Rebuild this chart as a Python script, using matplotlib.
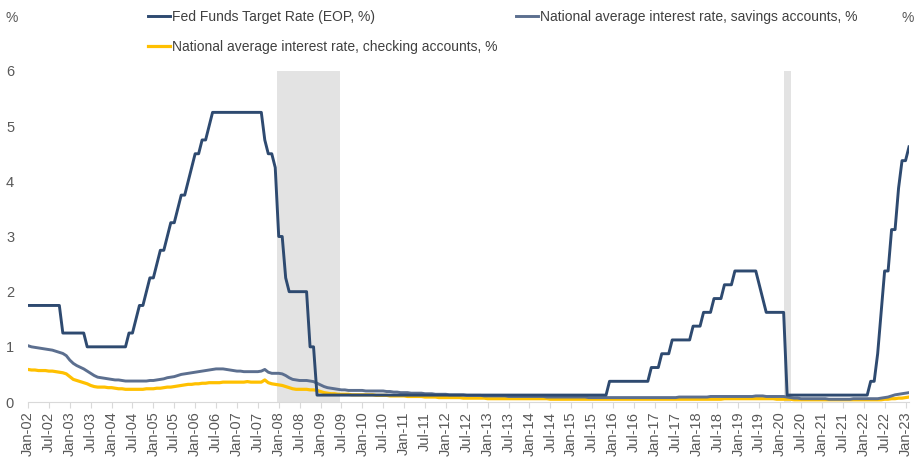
"""Fed funds target rate vs national average deposit rates, 2002-2023."""

import matplotlib

matplotlib.use("Agg")
import matplotlib.pyplot as plt
import numpy as np

plt.rcParams["font.family"] = ["Liberation Sans", "DejaVu Sans"]

# monthly series, Jan-02 .. Feb-23 (one row per year)
fed_funds = [
    1.75, 1.75, 1.75, 1.75, 1.75, 1.75, 1.75, 1.75, 1.75, 1.75, 1.25, 1.25,
    1.25, 1.25, 1.25, 1.25, 1.25, 1.00, 1.00, 1.00, 1.00, 1.00, 1.00, 1.00,
    1.00, 1.00, 1.00, 1.00, 1.00, 1.25, 1.25, 1.50, 1.75, 1.75, 2.00, 2.25,
    2.25, 2.50, 2.75, 2.75, 3.00, 3.25, 3.25, 3.50, 3.75, 3.75, 4.00, 4.25,
    4.50, 4.50, 4.75, 4.75, 5.00, 5.25, 5.25, 5.25, 5.25, 5.25, 5.25, 5.25,
    5.25, 5.25, 5.25, 5.25, 5.25, 5.25, 5.25, 5.25, 4.75, 4.50, 4.50, 4.25,
    3.00, 3.00, 2.25, 2.00, 2.00, 2.00, 2.00, 2.00, 2.00, 1.00, 1.00, 0.125,
    0.125, 0.125, 0.125, 0.125, 0.125, 0.125, 0.125, 0.125, 0.125, 0.125, 0.125, 0.125,
    0.125, 0.125, 0.125, 0.125, 0.125, 0.125, 0.125, 0.125, 0.125, 0.125, 0.125, 0.125,
    0.125, 0.125, 0.125, 0.125, 0.125, 0.125, 0.125, 0.125, 0.125, 0.125, 0.125, 0.125,
    0.125, 0.125, 0.125, 0.125, 0.125, 0.125, 0.125, 0.125, 0.125, 0.125, 0.125, 0.125,
    0.125, 0.125, 0.125, 0.125, 0.125, 0.125, 0.125, 0.125, 0.125, 0.125, 0.125, 0.125,
    0.125, 0.125, 0.125, 0.125, 0.125, 0.125, 0.125, 0.125, 0.125, 0.125, 0.125, 0.125,
    0.125, 0.125, 0.125, 0.125, 0.125, 0.125, 0.125, 0.125, 0.125, 0.125, 0.125, 0.375,
    0.375, 0.375, 0.375, 0.375, 0.375, 0.375, 0.375, 0.375, 0.375, 0.375, 0.375, 0.625,
    0.625, 0.625, 0.875, 0.875, 0.875, 1.125, 1.125, 1.125, 1.125, 1.125, 1.125, 1.375,
    1.375, 1.375, 1.625, 1.625, 1.625, 1.875, 1.875, 1.875, 2.125, 2.125, 2.125, 2.375,
    2.375, 2.375, 2.375, 2.375, 2.375, 2.375, 2.125, 1.875, 1.625, 1.625, 1.625, 1.625,
    1.625, 1.625, 0.125, 0.125, 0.125, 0.125, 0.125, 0.125, 0.125, 0.125, 0.125, 0.125,
    0.125, 0.125, 0.125, 0.125, 0.125, 0.125, 0.125, 0.125, 0.125, 0.125, 0.125, 0.125,
    0.125, 0.125, 0.375, 0.375, 0.875, 1.625, 2.375, 2.375, 3.125, 3.125, 3.875, 4.375,
    4.375, 4.625,
]

savings_rate = [
    1.02, 1.00, 0.99, 0.98, 0.97, 0.96, 0.95, 0.94, 0.92, 0.90, 0.88, 0.84,
    0.76, 0.70, 0.66, 0.63, 0.60, 0.56, 0.52, 0.48, 0.45, 0.44, 0.43, 0.42,
    0.41, 0.40, 0.40, 0.39, 0.38, 0.38, 0.38, 0.38, 0.38, 0.38, 0.38, 0.39,
    0.39, 0.40, 0.41, 0.42, 0.44, 0.45, 0.46, 0.48, 0.50, 0.51, 0.52, 0.53,
    0.54, 0.55, 0.56, 0.57, 0.58, 0.59, 0.60, 0.60, 0.60, 0.59, 0.58, 0.57,
    0.56, 0.56, 0.55, 0.55, 0.55, 0.55, 0.55, 0.56, 0.59, 0.54, 0.52, 0.52,
    0.52, 0.51, 0.48, 0.44, 0.41, 0.40, 0.39, 0.39, 0.39, 0.38, 0.37, 0.34,
    0.31, 0.28, 0.26, 0.25, 0.24, 0.23, 0.22, 0.22, 0.21, 0.21, 0.21, 0.21,
    0.21, 0.20, 0.20, 0.20, 0.20, 0.20, 0.20, 0.19, 0.19, 0.18, 0.18, 0.17,
    0.17, 0.17, 0.16, 0.16, 0.16, 0.16, 0.15, 0.15, 0.15, 0.14, 0.14, 0.14,
    0.14, 0.13, 0.13, 0.13, 0.13, 0.13, 0.12, 0.12, 0.12, 0.12, 0.12, 0.11,
    0.11, 0.11, 0.11, 0.11, 0.11, 0.11, 0.10, 0.10, 0.10, 0.10, 0.10, 0.10,
    0.10, 0.10, 0.10, 0.10, 0.10, 0.09, 0.09, 0.09, 0.09, 0.09, 0.09, 0.09,
    0.09, 0.09, 0.09, 0.09, 0.09, 0.08, 0.08, 0.08, 0.08, 0.08, 0.08, 0.08,
    0.08, 0.08, 0.08, 0.08, 0.08, 0.08, 0.08, 0.08, 0.08, 0.08, 0.08, 0.08,
    0.08, 0.08, 0.08, 0.08, 0.08, 0.08, 0.08, 0.09, 0.09, 0.09, 0.09, 0.09,
    0.09, 0.09, 0.09, 0.09, 0.10, 0.10, 0.10, 0.10, 0.10, 0.10, 0.10, 0.10,
    0.10, 0.10, 0.10, 0.10, 0.10, 0.11, 0.11, 0.11, 0.10, 0.10, 0.10, 0.10,
    0.10, 0.10, 0.09, 0.08, 0.07, 0.07, 0.06, 0.06, 0.06, 0.06, 0.06, 0.06,
    0.06, 0.06, 0.05, 0.05, 0.05, 0.05, 0.05, 0.05, 0.05, 0.06, 0.06, 0.06,
    0.06, 0.06, 0.06, 0.06, 0.06, 0.07, 0.08, 0.09, 0.11, 0.13, 0.14, 0.15,
    0.16, 0.17,
]

checking_rate = [
    0.59, 0.58, 0.58, 0.57, 0.57, 0.57, 0.56, 0.56, 0.55, 0.54, 0.53, 0.51,
    0.46, 0.41, 0.39, 0.37, 0.35, 0.33, 0.30, 0.28, 0.27, 0.27, 0.27, 0.26,
    0.26, 0.25, 0.24, 0.24, 0.23, 0.23, 0.23, 0.23, 0.23, 0.23, 0.24, 0.24,
    0.24, 0.25, 0.25, 0.26, 0.27, 0.27, 0.28, 0.29, 0.30, 0.31, 0.32, 0.32,
    0.33, 0.33, 0.34, 0.34, 0.35, 0.35, 0.35, 0.35, 0.36, 0.36, 0.36, 0.36,
    0.36, 0.36, 0.36, 0.37, 0.36, 0.36, 0.36, 0.36, 0.40, 0.35, 0.33, 0.32,
    0.31, 0.30, 0.28, 0.26, 0.24, 0.23, 0.23, 0.23, 0.23, 0.22, 0.22, 0.21,
    0.19, 0.17, 0.16, 0.15, 0.15, 0.14, 0.14, 0.14, 0.14, 0.13, 0.13, 0.13,
    0.13, 0.13, 0.13, 0.13, 0.12, 0.12, 0.12, 0.12, 0.11, 0.11, 0.11, 0.11,
    0.11, 0.10, 0.10, 0.10, 0.10, 0.10, 0.09, 0.09, 0.09, 0.09, 0.08, 0.08,
    0.08, 0.08, 0.08, 0.08, 0.08, 0.07, 0.07, 0.07, 0.07, 0.07, 0.07, 0.07,
    0.06, 0.06, 0.06, 0.06, 0.06, 0.06, 0.06, 0.06, 0.06, 0.06, 0.06, 0.06,
    0.06, 0.06, 0.06, 0.06, 0.06, 0.06, 0.05, 0.05, 0.05, 0.05, 0.05, 0.05,
    0.05, 0.05, 0.05, 0.05, 0.05, 0.05, 0.05, 0.05, 0.05, 0.05, 0.05, 0.05,
    0.05, 0.05, 0.05, 0.05, 0.05, 0.05, 0.05, 0.05, 0.05, 0.05, 0.05, 0.05,
    0.05, 0.05, 0.05, 0.05, 0.05, 0.05, 0.05, 0.05, 0.05, 0.05, 0.05, 0.05,
    0.05, 0.05, 0.05, 0.05, 0.05, 0.05, 0.05, 0.05, 0.06, 0.06, 0.06, 0.06,
    0.06, 0.06, 0.06, 0.06, 0.06, 0.06, 0.06, 0.06, 0.06, 0.06, 0.06, 0.05,
    0.05, 0.05, 0.05, 0.05, 0.04, 0.04, 0.04, 0.04, 0.04, 0.04, 0.04, 0.04,
    0.04, 0.04, 0.04, 0.04, 0.04, 0.04, 0.04, 0.04, 0.04, 0.04, 0.04, 0.04,
    0.04, 0.04, 0.04, 0.04, 0.04, 0.04, 0.05, 0.05, 0.06, 0.06, 0.07, 0.07,
    0.08, 0.09,
]

# recession bands as (start, end) in month index from Jan-02
recessions = [(71.5, 89.5), (217.0, 219.0)]

months = np.arange(len(fed_funds))
tick_pos = np.arange(0, len(fed_funds), 6)
tick_labels = [
    ("Jan-" if i % 12 == 0 else "Jul-") + f"{(2 + i // 12) % 100:02d}" for i in tick_pos
]

FED_COLOR = "#2E4A70"
SAV_COLOR = "#5C6F8F"
CHK_COLOR = "#FFC000"
TEXT_COLOR = "#595959"
AXIS_COLOR = "#D9D9D9"

W, H = 916, 467
fig = plt.figure(figsize=(W / 100, H / 100), dpi=100)
ax = fig.add_axes([28 / W, (H - 402) / H, 881 / W, 331 / H])

for start, end in recessions:
    ax.axvspan(start, end, color="#E3E3E3", lw=0, zorder=0)

(chk_line,) = ax.plot(months, checking_rate, color=CHK_COLOR, lw=2.3, zorder=2,
                      label="National average interest rate, checking accounts, %")
(sav_line,) = ax.plot(months, savings_rate, color=SAV_COLOR, lw=2.1, zorder=3,
                      label="National average interest rate, savings accounts, %")
(fed_line,) = ax.plot(months, fed_funds, color=FED_COLOR, lw=2.1, zorder=4,
                      label="Fed Funds Target Rate (EOP, %)")

ax.set_xlim(0, len(fed_funds) - 1)
ax.set_ylim(0, 6)
ax.set_yticks(range(7))
ax.set_xticks(tick_pos)
ax.set_xticklabels(tick_labels, rotation=90)

for side in ("top", "right", "left"):
    ax.spines[side].set_visible(False)
ax.spines["bottom"].set_color(AXIS_COLOR)
ax.tick_params(axis="y", length=0, pad=10, labelsize=10.5, labelcolor=TEXT_COLOR)
ax.tick_params(axis="x", length=4, color=AXIS_COLOR, pad=3, labelsize=10.5,
               labelcolor=TEXT_COLOR)
ax.patch.set_alpha(0)

fig.legend(
    handles=[fed_line, chk_line, sav_line],
    loc="upper left",
    bbox_to_anchor=(148 / W, 1 - 10 / H),
    ncol=2,
    frameon=False,
    fontsize=10,
    handlelength=1.6,
    handletextpad=0.15,
    columnspacing=1.3,
    labelspacing=1.15,
    borderpad=0,
    borderaxespad=0,
    labelcolor="#404040",
)

fig.text(12 / W, 1 - 18 / H, "%", fontsize=10, color=TEXT_COLOR, ha="center", va="center")
fig.text(908 / W, 1 - 18 / H, "%", fontsize=10, color=TEXT_COLOR, ha="center", va="center")

fig.savefig("out.png", dpi=100)
